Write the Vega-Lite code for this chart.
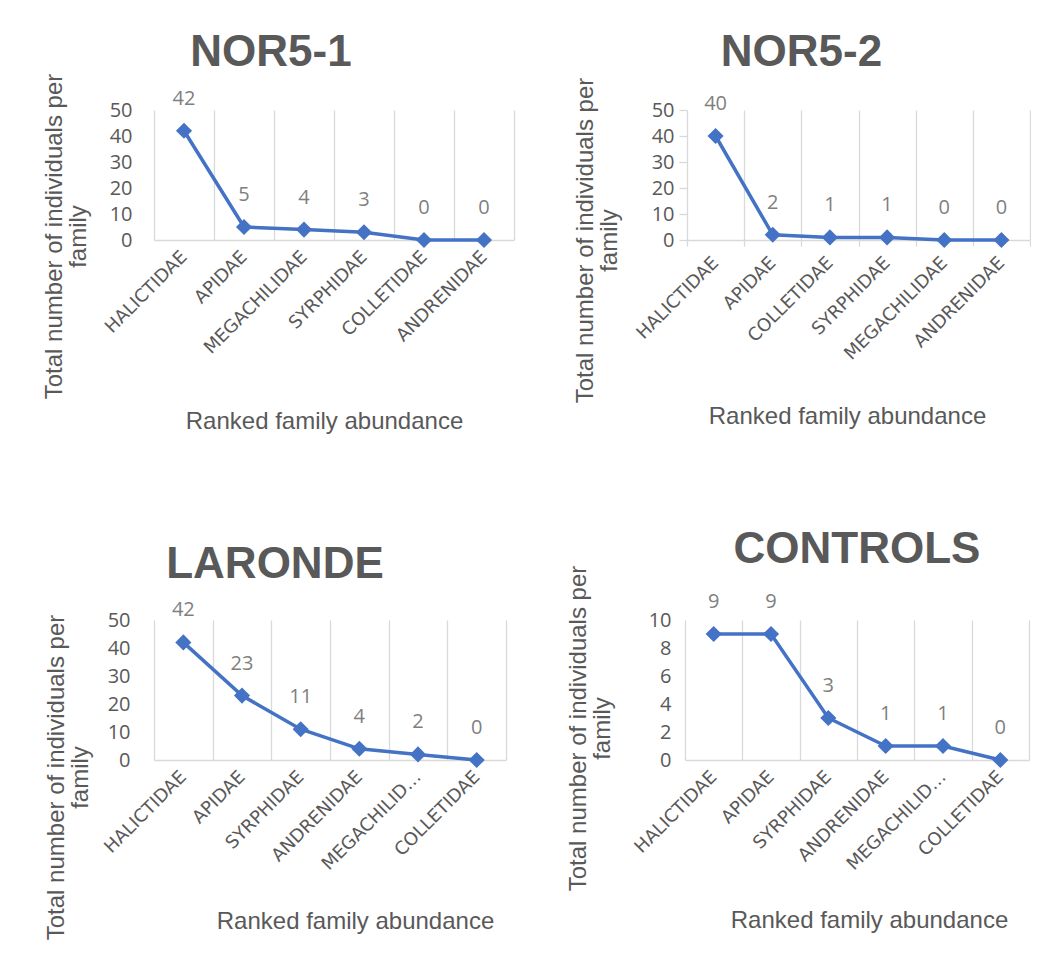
{
  "$schema": "https://vega.github.io/schema/vega-lite/v6.json",
  "background": "white",
  "autosize": {"type": "pad"},
  "padding": {"left": 41, "top": 31, "right": 0, "bottom": 0},
  "datasets": {
    "nor51": [
      {"family": "HALICTIDAE", "count": 42},
      {"family": "APIDAE", "count": 5},
      {"family": "MEGACHILIDAE", "count": 4},
      {"family": "SYRPHIDAE", "count": 3},
      {"family": "COLLETIDAE", "count": 0},
      {"family": "ANDRENIDAE", "count": 0}
    ],
    "nor52": [
      {"family": "HALICTIDAE", "count": 40},
      {"family": "APIDAE", "count": 2},
      {"family": "COLLETIDAE", "count": 1},
      {"family": "SYRPHIDAE", "count": 1},
      {"family": "MEGACHILIDAE", "count": 0},
      {"family": "ANDRENIDAE", "count": 0}
    ],
    "laronde": [
      {"family": "HALICTIDAE", "count": 42},
      {"family": "APIDAE", "count": 23},
      {"family": "SYRPHIDAE", "count": 11},
      {"family": "ANDRENIDAE", "count": 4},
      {"family": "MEGACHILIDAE", "count": 2},
      {"family": "COLLETIDAE", "count": 0}
    ],
    "controls": [
      {"family": "HALICTIDAE", "count": 9},
      {"family": "APIDAE", "count": 9},
      {"family": "SYRPHIDAE", "count": 3},
      {"family": "ANDRENIDAE", "count": 1},
      {"family": "MEGACHILIDAE", "count": 1},
      {"family": "COLLETIDAE", "count": 0}
    ]
  },
  "config": {
    "view": {"stroke": null},
    "font": "Liberation Sans",
    "title": {"font": "Liberation Sans", "fontSize": 44, "fontWeight": "bold", "color": "#595959", "anchor": "middle", "baseline": "alphabetic", "offset": 0},
    "axis": {"labelFont": "Open Sans", "labelColor": "#595959", "titleFont": "Liberation Sans", "titleFontSize": 24, "titleFontWeight": "normal", "titleColor": "#595959", "gridColor": "#d9d9d9", "gridWidth": 1.3, "domainColor": "#d9d9d9", "domainWidth": 1.3, "tickColor": "#d9d9d9", "tickWidth": 1.3},
    "axisX": {"labelFont": "DejaVu Sans", "labelFontSize": 18, "labelAngle": -45, "grid": true, "tickBand": "extent", "ticks": false, "labelAlign": "right", "labelBaseline": "middle", "labelPadding": 14, "labelLimit": 300, "titleAlign": "center", "titleBaseline": "alphabetic"},
    "axisY": {"labelFontSize": 20, "grid": false, "domain": false, "ticks": false, "titleAlign": "center", "titleBaseline": "alphabetic", "titleLineHeight": 24}
  },
  "spacing": 510,
  "bounds": "flush",
  "vconcat": [
    {
      "spacing": 173,
      "bounds": "flush",
      "hconcat": [
        {
          "width": 360, "height": 130,
          "data": {"name": "nor51"},
          "title": {"text": "NOR5-1", "dx": -63, "dy": 6},
          "encoding": {
            "x": {"field": "family", "type": "nominal", "sort": null, "scale": {"type": "band", "paddingInner": 0, "paddingOuter": 0},
              "axis": {"title": "Ranked family abundance", "titleX": 170, "titleY": 188}},
            "y": {"field": "count", "type": "quantitative", "scale": {"domain": [0, 50]},
              "axis": {"values": [0, 10, 20, 30, 40, 50], "labelPadding": 22, "title": ["Total number of individuals per", "family"], "titleX": -93, "titleY": 126}}
          },
          "layer": [
            {"mark": {"type": "line", "color": "#4472C4", "strokeWidth": 3.5}},
            {"mark": {"type": "point", "shape": "diamond", "filled": true, "size": 260, "color": "#4472C4", "opacity": 1}},
            {"mark": {"type": "text", "dy": -26, "baseline": "alphabetic", "font": "Open Sans", "fontSize": 20, "color": "#7f7f7f"}, "encoding": {"text": {"field": "count", "type": "quantitative"}}}
          ]
        },
        {
          "width": 343, "height": 130,
          "data": {"name": "nor52"},
          "title": {"text": "NOR5-2", "dx": -57, "dy": 2},
          "encoding": {
            "x": {"field": "family", "type": "nominal", "sort": null, "scale": {"type": "band", "paddingInner": 0, "paddingOuter": 0},
              "axis": {"title": "Ranked family abundance", "titleX": 160, "titleY": 183, "ticks": true, "tickSize": 6}},
            "y": {"field": "count", "type": "quantitative", "scale": {"domain": [0, 50]},
              "axis": {"values": [0, 10, 20, 30, 40, 50], "ticks": true, "tickSize": 8, "labelPadding": 5, "title": ["Total number of individuals per", "family"], "titleX": -95, "titleY": 130}}
          },
          "layer": [
            {"mark": {"type": "line", "color": "#4472C4", "strokeWidth": 3.5}},
            {"mark": {"type": "point", "shape": "diamond", "filled": true, "size": 260, "color": "#4472C4", "opacity": 1}},
            {"mark": {"type": "text", "dy": -26, "baseline": "alphabetic", "font": "Open Sans", "fontSize": 20, "color": "#7f7f7f"}, "encoding": {"text": {"field": "count", "type": "quantitative"}}}
          ]
        }
      ]
    },
    {
      "spacing": 179,
      "bounds": "flush",
      "hconcat": [
        {
          "width": 352, "height": 140,
          "data": {"name": "laronde"},
          "title": {"text": "LARONDE", "dx": -55, "dy": -9},
          "encoding": {
            "x": {"field": "family", "type": "nominal", "sort": null, "scale": {"type": "band", "paddingInner": 0, "paddingOuter": 0},
              "axis": {"title": "Ranked family abundance", "titleX": 201, "titleY": 168, "labelExpr": "datum.label == 'MEGACHILIDAE' ? 'MEGACHILID…' : datum.label"}},
            "y": {"field": "count", "type": "quantitative", "scale": {"domain": [0, 50]},
              "axis": {"values": [0, 10, 20, 30, 40, 50], "labelPadding": 24, "title": ["Total number of individuals per", "family"], "titleX": -91, "titleY": 157}}
          },
          "layer": [
            {"mark": {"type": "line", "color": "#4472C4", "strokeWidth": 3.5}},
            {"mark": {"type": "point", "shape": "diamond", "filled": true, "size": 260, "color": "#4472C4", "opacity": 1}},
            {"mark": {"type": "text", "dy": -26, "baseline": "alphabetic", "font": "Open Sans", "fontSize": 20, "color": "#7f7f7f"}, "encoding": {"text": {"field": "count", "type": "quantitative"}}}
          ]
        },
        {
          "width": 344, "height": 140,
          "data": {"name": "controls"},
          "title": {"text": "CONTROLS", "dx": 0, "dy": 11},
          "encoding": {
            "x": {"field": "family", "type": "nominal", "sort": null, "scale": {"type": "band", "paddingInner": 0, "paddingOuter": 0},
              "axis": {"title": "Ranked family abundance", "titleX": 184, "titleY": 167, "labelExpr": "datum.label == 'MEGACHILIDAE' ? 'MEGACHILID…' : datum.label"}},
            "y": {"field": "count", "type": "quantitative", "scale": {"domain": [0, 10]},
              "axis": {"values": [0, 2, 4, 6, 8, 10], "labelPadding": 14, "title": ["Total number of individuals per", "family"], "titleX": -100, "titleY": 108}}
          },
          "layer": [
            {"mark": {"type": "line", "color": "#4472C4", "strokeWidth": 3.5}},
            {"mark": {"type": "point", "shape": "diamond", "filled": true, "size": 260, "color": "#4472C4", "opacity": 1}},
            {"mark": {"type": "text", "dy": -26, "baseline": "alphabetic", "font": "Open Sans", "fontSize": 20, "color": "#7f7f7f"}, "encoding": {"text": {"field": "count", "type": "quantitative"}}}
          ]
        }
      ]
    }
  ]
}
